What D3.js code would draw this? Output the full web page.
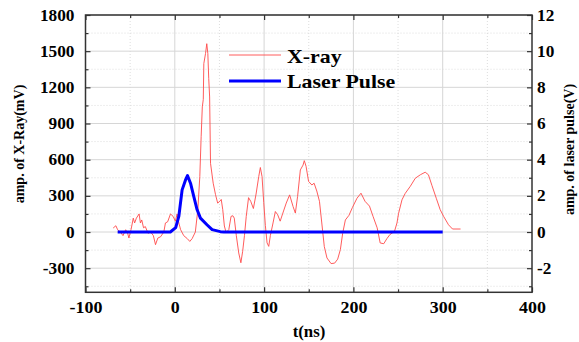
<!DOCTYPE html>
<html><head><meta charset="utf-8">
<script src="https://cdn.jsdelivr.net/npm/d3@7"></script>
<style>body{margin:0;background:#fff}svg{display:block}</style>
</head><body><svg id="c" width="579" height="342"></svg>
<script>
// X-ray signal (t in ns, amplitude in mV)
const xrayT = [-69,-66,-64,-61,-58,-55,-53,-51.4,-49,-46.5,-45,-43,-40,-38.5,-37,-35,-33,-30,-27,-24,-21.6,-19,-16,-12.3,-10.5,-8,-4.8,-1.9,0.7,2.6,4.5,6.5,10,14,16.8,19.4,23,25.8,28,29.5,30.8,31.9,32.5,34.4,35.8,37,38,39,40,43,45.6,48,50.4,52,53.7,55.5,57.5,60.5,63,65,66.6,68.9,71.6,74,76,78,80,82.6,85,88,91,94,95.8,97.7,99.6,101.4,103.3,105.2,107,110,112.6,115.2,118,121,124.8,128.6,132.4,135,137.5,140.6,143.6,145,147,149.8,153.5,156,159,162,164.6,167.4,170.4,175,179,182.4,185.4,188,191,195,199,204,208.5,213,218,222,226.6,230,234,237.5,241,246,248.8,250.6,254.4,258,263.8,269.3,275,280.4,284,288,292.8,297.2,301,306.5,311,320];
const xrayV = [33,52,19,0,-30,19,-5,-50,20,115,75,115,150,75,100,35,45,-10,0,-30,-105,-50,-40,0,75,85,150,130,90,150,75,20,-30,-55,-78,-55,0,184,460,790,1038,1100,1397,1480,1562,1480,1273,1120,570,405,310,240,255,270,185,50,-5,20,130,135,115,-30,-174,-255,-160,-30,130,285,255,195,315,460,535,460,245,55,-90,-119,-30,75,170,143,90,157,240,308,212,157,295,515,555,592,545,420,390,405,340,255,75,-120,-215,-262,-258,-225,-146,-10,100,138,205,280,322,255,215,130,35,-91,-97,-55,-20,5,75,155,267,320,380,446,475,496,475,385,280,185,130,60,25,25];
// Laser pulse (t in ns, amplitude in V)
const laserT = [-64,-5,1,4.5,8.2,12,14.2,17.6,21.3,25,28.7,36,41.8,51,55,300];
const laserV = [0,0,0.24,0.86,2.33,2.88,3.12,2.7,1.96,1.23,0.77,0.4,0.13,0.02,0,0];
const xTicks = [-100,0,100,200,300,400];
const yLeftTicks = [-300,0,300,600,900,1200,1500,1800];
const yRightTicks = [-2,0,2,4,6,8,10,12];
const seriesNames = ["X-ray","Laser Pulse"];

const FONT = "'Liberation Serif', 'Times New Roman', 'DejaVu Serif', serif";
const svg = d3.select("#c");
const L=85.5, R=532, T=15, B=292.3;
const x = d3.scaleLinear().domain([-100,400]).range([L,R]);
const yL = d3.scaleLinear().domain([-500,1800]).range([B,T]);
const yR = d3.scaleLinear().domain([-500/150,12]).range([B,T]);

const sty = sel => sel.attr("font-family",FONT).attr("font-weight","bold").attr("fill","#000").style("font-family",FONT).style("font-weight","bold");
const stretch = (sel,k)=>sel.each(function(){const w=this.getComputedTextLength();d3.select(this).attr("textLength",w*k).attr("lengthAdjust","spacingAndGlyphs");});

// grid
const g = svg.append("g");
const minorX = d3.range(-50,400,100), minorY = d3.range(-450,1800,300);
g.selectAll(".mx").data(minorX).join("line").attr("x1",d=>x(d)).attr("x2",d=>x(d)).attr("y1",T).attr("y2",B).attr("stroke","#d4d4d4").attr("stroke-width",0.8).attr("stroke-dasharray","1,2");
g.selectAll(".my").data(minorY).join("line").attr("y1",d=>yL(d)).attr("y2",d=>yL(d)).attr("x1",L).attr("x2",R).attr("stroke","#d4d4d4").attr("stroke-width",0.8).attr("stroke-dasharray","1,2");
g.selectAll(".Mx").data(xTicks.slice(1,-1)).join("line").attr("x1",d=>x(d)).attr("x2",d=>x(d)).attr("y1",T).attr("y2",B).attr("stroke","#d6d6d6").attr("stroke-width",1);
g.selectAll(".My").data(yLeftTicks).join("line").attr("y1",d=>yL(d)).attr("y2",d=>yL(d)).attr("x1",L).attr("x2",R).attr("stroke","#d6d6d6").attr("stroke-width",1);

// axes with inward ticks
const fmt = d => String(d);
const ax = (axis, tr) => { const a = svg.append("g").attr("transform",tr).call(axis); a.attr("font-family",FONT); a.select(".domain").remove(); a.selectAll("line").attr("stroke","#333").attr("stroke-width",1.2); return a; };
const bot = ax(d3.axisBottom(x).tickValues(xTicks).tickSize(-5).tickPadding(9).tickFormat(fmt),`translate(0,${B})`);
bot.selectAll("text").call(sty).attr("font-size",16).attr("dy","0.71em").call(stretch,1.12);
ax(d3.axisBottom(x).tickValues(minorX).tickSize(-3).tickFormat(""),`translate(0,${B})`);
ax(d3.axisTop(x).tickValues(xTicks).tickSize(-5).tickFormat(""),`translate(0,${T})`);
ax(d3.axisTop(x).tickValues(minorX).tickSize(-3).tickFormat(""),`translate(0,${T})`);
const left = ax(d3.axisLeft(yL).tickValues(yLeftTicks).tickSize(-5).tickPadding(11).tickFormat(fmt),`translate(${L},0)`);
left.selectAll("text").call(sty).attr("font-size",16).attr("text-anchor","end").call(stretch,1.08);
ax(d3.axisLeft(yL).tickValues(minorY).tickSize(-3).tickFormat(""),`translate(${L},0)`);
const right = ax(d3.axisRight(yR).tickValues(yRightTicks).tickSize(-5).tickPadding(5).tickFormat(fmt),`translate(${R},0)`);
right.selectAll("text").call(sty).attr("font-size",16).call(stretch,1.08);
ax(d3.axisRight(yR).tickValues(d3.range(-3,12,2)).tickSize(-3).tickFormat(""),`translate(${R},0)`);

// lines
svg.append("clipPath").attr("id","cp").append("rect").attr("x",L).attr("y",T).attr("width",R-L).attr("height",B-T);
svg.append("path").datum(xrayT.map((t,i)=>[t,xrayV[i]])).attr("clip-path","url(#cp)")
  .attr("d",d3.line().x(d=>x(d[0])).y(d=>yL(d[1]))).attr("fill","none").attr("stroke","#ff4a4a").attr("stroke-width",0.9);
svg.append("path").datum(laserT.map((t,i)=>[t,laserV[i]])).attr("clip-path","url(#cp)")
  .attr("d",d3.line().x(d=>x(d[0])).y(d=>yR(d[1]))).attr("fill","none").attr("stroke","#0000ff").attr("stroke-width",3).attr("stroke-linejoin","round");

// frame
svg.append("rect").attr("x",L).attr("y",T).attr("width",R-L).attr("height",B-T).attr("fill","none").attr("stroke","#333").attr("stroke-width",1.5);

// legend
const leg = [{y:55,c:"#ff4a4a",w:0.9,by:63},{y:81,c:"#0000ff",w:3,by:87.5}];
leg.forEach((l,i)=>{
  svg.append("line").attr("x1",229).attr("x2",281).attr("y1",l.y).attr("y2",l.y).attr("stroke",l.c).attr("stroke-width",l.w);
  svg.append("text").attr("x",287).attr("y",l.by).attr("font-size",19).call(sty).text(seriesNames[i]).call(stretch,1.15);
});

// titles
svg.append("text").attr("x",309).attr("y",337).attr("text-anchor","middle").attr("font-size",16).call(sty).text("t(ns)").call(stretch,1.05);
svg.append("text").attr("transform","translate(24,144) rotate(-90)").attr("text-anchor","middle").attr("font-size",14).call(sty).text("amp. of X-Ray(mV)");
svg.append("text").attr("transform","translate(574,149.5) rotate(-90)").attr("text-anchor","middle").attr("font-size",14).call(sty).text("amp. of laser pulse(V)");
</script></body></html>
